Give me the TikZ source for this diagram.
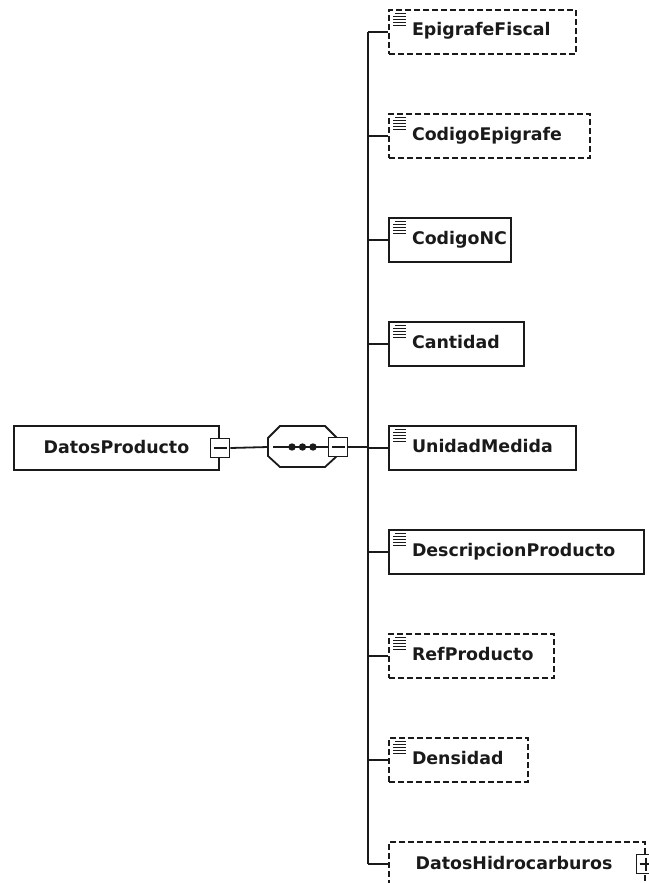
\documentclass[tikz,border=0pt]{standalone}
\usepackage{fontspec}
\newfontfamily\elemfont{DejaVu Sans}
\definecolor{ink}{HTML}{1A1A1A}
\begin{document}
\begin{tikzpicture}[x=1pt,y=-1pt,
  lnk/.style={line width=1.8pt, draw=ink},
  box/.style={draw=ink, text=ink, line width=2pt, anchor=north west, inner xsep=0pt, inner ysep=0pt,
    text height=26pt, text depth=18pt,
    font=\elemfont\bfseries\fontsize{17.4pt}{20pt}\selectfont},
  elem/.style={box, align=left,
    path picture={
      \draw[solid, ink, line width=1.4pt] ([xshift=6pt,yshift=-3.5pt]path picture bounding box.north west) -- ++(11pt,0pt);
      \foreach \dy in {6.5,9.5,12.5,15.5}
        \draw[solid, ink, line width=1.4pt] ([xshift=4pt,yshift=-\dy pt]path picture bounding box.north west) -- ++(13pt,0pt);
    }},
  cbox/.style={box, align=center, text height=27pt, text depth=17pt},
  opt/.style={dash pattern=on 6pt off 3pt},
  pmbox/.style={draw=ink, solid, fill=white, line width=1.6pt, minimum width=19pt, minimum height=19pt, inner sep=0pt},
  minus/.style={pmbox, path picture={\draw[ink, line width=1.5pt] ([xshift=3pt]path picture bounding box.west) -- ([xshift=-3pt]path picture bounding box.east);}},
  plus/.style={pmbox, path picture={
      \draw[ink, line width=1.5pt] ([xshift=3pt]path picture bounding box.west) -- ([xshift=-3pt]path picture bounding box.east);
      \draw[ink, line width=1.5pt] ([yshift=-3pt]path picture bounding box.north) -- ([yshift=3pt]path picture bounding box.south);}}
]
\useasboundingbox (0,0) rectangle (648,883);

% root element
\node[cbox, text width=205pt] (dp) at (13,425) {DatosProducto};
\node[minus] (m1) at (dp.east) {};

% sequence compositor
\coordinate (seqw) at (268,447);
\draw[line width=1.8pt, ink] (268,438) -- (280,426) -- (325,426) -- (337,438) -- (337,456) -- (325,467) -- (280,467) -- (268,456) -- cycle;
\coordinate (seqin) at (273,447);
\node[minus] (m2) at (338,447) {};
\draw[lnk] (seqin) -- (m2.west);
\foreach \xx in {292,302.5,313} \fill[ink] (\xx,447) circle (3.7pt);
\draw[lnk] (m1.east) -- (seqw);

% children
\coordinate (bus) at (368,0);
\node[elem, opt, text width=187pt] (e1) at (388,9)   {\noindent\hspace*{23pt}EpigrafeFiscal};
\node[elem, opt, text width=201pt] (e2) at (388,113) {\noindent\hspace*{23pt}CodigoEpigrafe};
\node[elem, text width=122pt]      (e3) at (388,217) {\noindent\hspace*{23pt}CodigoNC};
\node[elem, text width=135pt]      (e4) at (388,321) {\noindent\hspace*{23pt}Cantidad};
\node[elem, text width=187pt]      (e5) at (388,425) {\noindent\hspace*{23pt}UnidadMedida};
\node[elem, text width=255pt]      (e6) at (388,529) {\noindent\hspace*{23pt}DescripcionProducto};
\node[elem, opt, text width=165pt] (e7) at (388,633) {\noindent\hspace*{23pt}RefProducto};
\node[elem, opt, text width=139pt] (e8) at (388,737) {\noindent\hspace*{23pt}Densidad};
\node[cbox, opt, text width=256pt] (e9) at (388,841) {DatosHidrocarburos\hspace*{6pt}};
\node[plus] (p9) at (e9.east) {};

\draw[lnk] (m2.east) -- (m2.east -| bus);
\draw[lnk] (e1.west -| bus) -- (e9.west -| bus);
\foreach \e in {e1,e2,e3,e4,e5,e6,e7,e8,e9}
  \draw[lnk] (\e.west -| bus) -- (\e.west);
\end{tikzpicture}
\end{document}
